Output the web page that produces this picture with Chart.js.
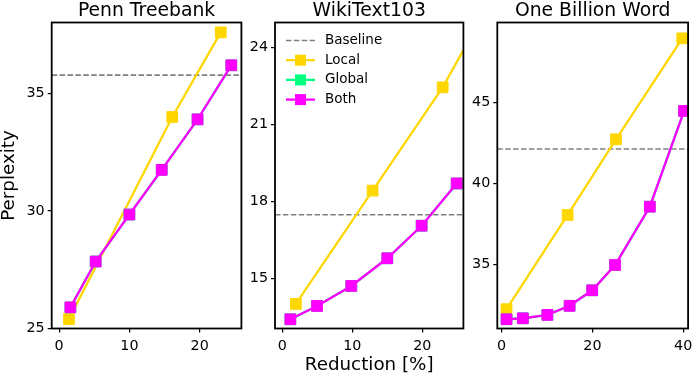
<!DOCTYPE html>
<html>
<head>
<meta charset="utf-8">
<script src="https://cdn.jsdelivr.net/npm/chart.js@4.4.0/dist/chart.umd.min.js"></script>
<style>
  html, body { margin: 0; padding: 0; background: #fff; }
  #wrap { position: relative; width: 698px; height: 374px; }
  canvas { position: absolute; top: 0; }
</style>
</head>
<body>
<div id="wrap">
  <canvas id="ptb" width="250" height="374" style="left:0px"></canvas>
  <canvas id="wt" width="222" height="374" style="left:250px"></canvas>
  <canvas id="obw" width="226" height="374" style="left:472px"></canvas>
</div>
<script>
// Valores
var legendNames = ['Baseline', 'Local', 'Global', 'Both'];

// Penn Treebank
var ptbLocalX = [1.4, 16.1, 23.0];
var ptbLocalY = [25.4, 34.0, 37.6];
var ptbBothX = [1.6, 5.2, 10.0, 14.6, 19.7, 24.5];
var ptbBothY = [25.9, 27.85, 29.85, 31.75, 33.9, 36.2];
var ptbGlobalX = ptbBothX;
var ptbGlobalY = ptbBothY;
var ptbBaseline = 35.78;
var ptbXTicks = [0, 10, 20];
var ptbYTicks = [25, 30, 35];

// WikiText103
var wtLocalX = [1.95, 12.9, 22.9, 27.5];
var wtLocalY = [14.0, 18.42, 22.45, 24.7];
var wtBothX = [1.16, 4.97, 9.86, 15.0, 19.9, 24.9];
var wtBothY = [13.4, 13.92, 14.7, 15.78, 17.05, 18.7];
var wtGlobalX = wtBothX;
var wtGlobalY = wtBothY;
var wtBaseline = 17.48;
var wtXTicks = [0, 10, 20];
var wtYTicks = [15, 18, 21, 24];

// One Billion Word
var obwLocalX = [1.08, 14.55, 25.2, 39.8];
var obwLocalY = [32.25, 38.07, 42.74, 48.97];
var obwBothX = [1.08, 4.68, 10.08, 14.98, 19.96, 25.0, 32.65, 40.2];
var obwBothY = [31.63, 31.69, 31.9, 32.46, 33.42, 34.98, 38.58, 44.49];
var obwGlobalX = obwBothX;
var obwGlobalY = obwBothY;
var obwBaseline = 42.14;
var obwXTicks = [0, 20, 40];
var obwYTicks = [35, 40, 45];

var colLocal = '#FFD700';
var colGlobal = '#00FF7F';
var colBoth = '#FF00FF';
var colBase = '#808080';

Chart.defaults.font.family = '"DejaVu Sans", sans-serif';
Chart.defaults.color = '#000';

function serie(nombre, xs, ys, color, orden) {
    return {
        label: nombre,
        data: xs.map((x, i) => ({x: x, y: ys[i]})),
        borderColor: color,
        backgroundColor: color,
        pointBackgroundColor: color,
        pointBorderColor: color,
        borderWidth: 2.3,
        pointStyle: 'rect',
        pointRadius: 7.6,
        pointBorderWidth: 1,
        tension: 0,
        clip: 0,
        order: orden
    };
}

function lineaBase(valor, xMin, xMax) {
    return {
        label: 'Baseline',
        data: [{x: xMin, y: valor}, {x: xMax, y: valor}],
        borderColor: colBase,
        borderWidth: 1.6,
        borderDash: [5.5, 2.4],
        pointRadius: 0,
        clip: 0,
        order: 10
    };
}

// Marco negro alrededor del área de la gráfica y título centrado sobre ella
var marco = {
    id: 'marco',
    afterDraw(chart) {
        var a = chart.chartArea, ctx = chart.ctx;
        ctx.save();
        ctx.strokeStyle = '#000';
        ctx.lineWidth = 1.8;
        ctx.strokeRect(a.left, a.top, a.right - a.left, a.bottom - a.top);
        ctx.fillStyle = '#000';
        ctx.font = '18.8px "DejaVu Sans"';
        ctx.textAlign = 'center';
        ctx.textBaseline = 'alphabetic';
        ctx.fillText(chart.options.plugins.marco.titulo, (a.left + a.right) / 2, 15.5);
        ctx.restore();
    }
};

// Leyenda dentro del panel central (línea + marcador)
var leyendaInterna = {
    id: 'leyendaInterna',
    afterDraw(chart) {
        if (!chart.options.plugins.leyendaInterna.show) return;
        var a = chart.chartArea, ctx = chart.ctx;
        ctx.save();
        ctx.font = '13.5px "DejaVu Sans"';
        ctx.textBaseline = 'middle';
        legendNames.forEach((nombre, i) => {
            var ds = chart.data.datasets.find(d => d.label === nombre);
            var y = a.top + 18 + i * 19.7;
            var x0 = a.left + 11, x1 = a.left + 40;
            ctx.strokeStyle = ds.borderColor;
            ctx.lineWidth = ds.borderWidth;
            ctx.setLineDash(ds.borderDash || []);
            ctx.beginPath();
            ctx.moveTo(x0, y);
            ctx.lineTo(x1, y);
            ctx.stroke();
            ctx.setLineDash([]);
            if (ds.pointRadius > 0) {
                ctx.fillStyle = ds.pointBackgroundColor;
                ctx.fillRect((x0 + x1) / 2 - 5.5, y - 5.5, 11, 11);
            }
            ctx.fillStyle = '#000';
            ctx.fillText(nombre, a.left + 50, y);
        });
        ctx.restore();
    }
};

function crearPanel(id, titulo, cfg) {
    var ctx = document.getElementById(id).getContext('2d');
    var datasets = [
        lineaBase(cfg.base, cfg.xMin, cfg.xMax),
        serie('Local', cfg.localX, cfg.localY, colLocal, 3),
        serie('Global', cfg.globalX, cfg.globalY, colGlobal, 2),
        serie('Both', cfg.bothX, cfg.bothY, colBoth, 1)
    ];
    return new Chart(ctx, {
        type: 'line',
        data: {datasets: datasets},
        options: {
            responsive: false,
            animation: false,
            devicePixelRatio: 1,
            layout: {padding: {left: 0, right: cfg.padRight, top: 22.5, bottom: 0}},
            plugins: {
                legend: {display: false},
                tooltip: {enabled: false},
                title: {display: false},
                marco: {titulo: titulo},
                leyendaInterna: {show: !!cfg.legend}
            },
            scales: {
                x: {
                    type: 'linear',
                    min: cfg.xMin,
                    max: cfg.xMax,
                    afterBuildTicks: s => { s.ticks = cfg.xTicks.map(v => ({value: v})); },
                    afterFit: s => { s.height = 45.5; },
                    grid: {drawOnChartArea: false, drawTicks: true, tickLength: 4, color: '#000', lineWidth: 1.2},
                    border: {display: false},
                    ticks: {font: {size: 14.3}, color: '#000', padding: 5.5, maxRotation: 0, autoSkip: false,
                            callback: v => String(v)},
                    title: {
                        display: !!cfg.xLabel,
                        text: cfg.xLabel || '',
                        color: '#000',
                        font: {size: 18.3, lineHeight: 1},
                        padding: {top: 0, bottom: 0}
                    }
                },
                y: {
                    type: 'linear',
                    min: cfg.yMin,
                    max: cfg.yMax,
                    afterBuildTicks: s => { s.ticks = cfg.yTicks.map(v => ({value: v})); },
                    afterFit: s => { s.width = cfg.yWidth; },
                    grid: {drawOnChartArea: false, drawTicks: true, tickLength: 4, color: '#000', lineWidth: 1.2},
                    border: {display: false},
                    ticks: {font: {size: 14.3}, color: '#000', padding: 3, autoSkip: false,
                            callback: v => String(v)},
                    title: {
                        display: !!cfg.yLabel,
                        text: cfg.yLabel || '',
                        color: '#000',
                        font: {size: 18.3, lineHeight: 1},
                        padding: {top: 0.5, bottom: 0}
                    }
                }
            }
        },
        plugins: [marco, leyendaInterna]
    });
}

crearPanel('ptb', 'Penn Treebank', {
    localX: ptbLocalX, localY: ptbLocalY,
    globalX: ptbGlobalX, globalY: ptbGlobalY,
    bothX: ptbBothX, bothY: ptbBothY,
    base: ptbBaseline,
    xMin: -1.06, xMax: 25.94, yMin: 25, yMax: 38.02,
    xTicks: ptbXTicks, yTicks: ptbYTicks,
    yWidth: 51.7, padRight: 4.7,
    yLabel: 'Perplexity'
});

crearPanel('wt', 'WikiText103', {
    localX: wtLocalX, localY: wtLocalY,
    globalX: wtGlobalX, globalY: wtGlobalY,
    bothX: wtBothX, bothY: wtBothY,
    base: wtBaseline,
    xMin: -1.03, xMax: 25.86, yMin: 13.04, yMax: 24.98,
    xTicks: wtXTicks, yTicks: wtYTicks,
    yWidth: 25, padRight: 5,
    xLabel: 'Reduction [%]',
    legend: true
});

crearPanel('obw', 'One Billion Word', {
    localX: obwLocalX, localY: obwLocalY,
    globalX: obwGlobalX, globalY: obwGlobalY,
    bothX: obwBothX, bothY: obwBothY,
    base: obwBaseline,
    xMin: -0.95, xMax: 41.08, yMin: 31.06, yMax: 49.95,
    xTicks: obwXTicks, yTicks: obwYTicks,
    yWidth: 25.3, padRight: 6.3
});
</script>
</body>
</html>
